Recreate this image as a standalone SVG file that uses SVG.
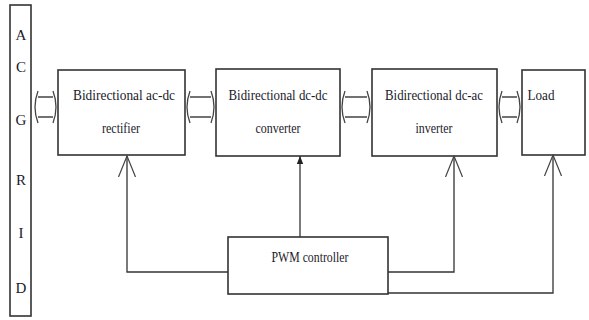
<svg xmlns="http://www.w3.org/2000/svg" width="589" height="320" viewBox="0 0 589 320">
<defs>
<style>
.box{fill:#fff;stroke:#333;stroke-width:1.6}
.ln{fill:none;stroke:#333;stroke-width:1.3}
.da{fill:none;stroke:#444;stroke-width:1.3}
.t{font-family:"Liberation Serif","Times New Roman",serif;font-size:15px;fill:#1a1a2a;text-anchor:middle}
</style>
<marker id="filled" viewBox="0 0 10 10" refX="10" refY="5" markerWidth="8" markerHeight="8" markerUnits="userSpaceOnUse" orient="auto">
<path d="M0,1 L10,5 L0,9 Z" fill="#222"/>
</marker>
<marker id="open" viewBox="0 0 22 20" refX="21" refY="10" markerWidth="22" markerHeight="20" markerUnits="userSpaceOnUse" orient="auto">
<path d="M0,1.5 L21,10 L0,18.5" fill="none" stroke="#444" stroke-width="1.2"/>
</marker>
</defs>
<rect width="589" height="320" fill="#fff"/>

<g id="acgrid">
<rect class="box" x="10" y="5" width="21" height="311"/>
<text class="t" x="21" y="40">A</text>
<text class="t" x="21" y="72">C</text>
<text class="t" x="21" y="125">G</text>
<text class="t" x="21" y="185">R</text>
<text class="t" x="21" y="238">I</text>
<text class="t" x="21" y="293">D</text>
</g>

<g id="rectifier">
<rect class="box" x="58" y="70" width="127" height="85"/>
<text class="t" x="124" y="100" textLength="102" lengthAdjust="spacingAndGlyphs">Bidirectional  ac-dc</text>
<text class="t" x="121" y="133" textLength="38" lengthAdjust="spacingAndGlyphs">rectifier</text>
</g>

<g id="converter">
<rect class="box" x="216" y="69" width="124" height="87"/>
<text class="t" x="278" y="100" textLength="99" lengthAdjust="spacingAndGlyphs">Bidirectional  dc-dc</text>
<text class="t" x="278" y="133" textLength="45" lengthAdjust="spacingAndGlyphs">converter</text>
</g>

<g id="inverter">
<rect class="box" x="372" y="69" width="125" height="87"/>
<text class="t" x="434" y="100" textLength="98" lengthAdjust="spacingAndGlyphs">Bidirectional  dc-ac</text>
<text class="t" x="434" y="133" textLength="37" lengthAdjust="spacingAndGlyphs">inverter</text>
</g>

<g id="load">
<rect class="box" x="522" y="70" width="63" height="85"/>
<text class="t" x="541" y="100" textLength="27" lengthAdjust="spacingAndGlyphs">Load</text>
</g>

<g id="pwm">
<rect class="box" x="228" y="237" width="160" height="57"/>
<text class="t" x="310" y="262" textLength="77" lengthAdjust="spacingAndGlyphs">PWM controller</text>
</g>

<g id="connectors">
<path class="da" d="M38,97 H53 M38,117 H53 M38,91 Q32,107 38,123 M53,91 Q59,107 53,123"/>
<path class="da" d="M190,97 H211 M190,117 H211 M190,91 Q184,107 190,123 M211,91 Q217,107 211,123"/>
<path class="da" d="M345,97 H367 M345,117 H367 M345,91 Q339,107 345,123 M367,91 Q373,107 367,123"/>
<path class="da" d="M502,97 H517 M502,117 H517 M502,91 Q496,107 502,123 M517,91 Q523,107 517,123"/>
<path class="ln" d="M228,272 H127 V156" marker-end="url(#open)"/>
<path class="ln" d="M300,237 V156" marker-end="url(#filled)"/>
<path class="ln" d="M388,272 H454 V156" marker-end="url(#open)"/>
<path class="ln" d="M388,293 H553 V155" marker-end="url(#open)"/>
</g>
</svg>
